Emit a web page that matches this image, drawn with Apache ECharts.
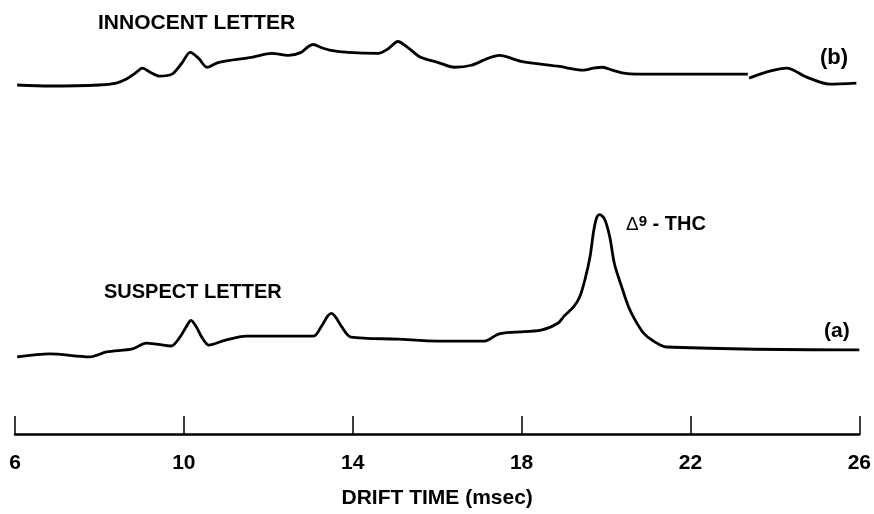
<!DOCTYPE html>
<html>
<head>
<meta charset="utf-8">
<script src="https://cdn.jsdelivr.net/npm/echarts@6/dist/echarts.min.js"></script>
<style>html,body{margin:0;padding:0;background:#fff}#c{width:874px;height:514px}</style>
</head>
<body>
<div id="c"></div>
<script>
// Drift time (msec) and detector signal (arbitrary units)
const tickValues = [6, 10, 14, 18, 22, 26];

// (b) INNOCENT LETTER
const innocentTime = [6.05, 6.82, 8.00, 8.40, 8.64, 8.85, 9.02, 9.20, 9.42, 9.72, 9.95, 10.15, 10.35, 10.55, 10.83, 11.61, 12.08, 12.48, 12.78, 12.95, 13.07, 13.25, 13.49, 13.89, 14.60, 14.85, 15.07, 15.30, 15.61, 16.01, 16.41, 16.81, 17.20, 17.47, 17.99, 18.86, 19.47, 19.70, 19.92, 20.15, 20.42, 20.72, 23.36, null, 23.39, 23.88, 24.28, 24.75, 25.29, 25.93];
const innocentSignal = [353, 352, 353, 355, 359, 365, 370, 366, 362, 364, 375, 386, 380, 371, 376, 381, 385, 383, 386, 392, 394, 391, 388, 386, 385, 390, 397, 391, 381, 376, 371, 373, 380, 383, 377, 372, 368, 370, 371, 368, 365, 364, 364, null, 360, 367, 370, 361, 354, 355];

// (a) SUSPECT LETTER
const suspectTime = [6.05, 6.82, 7.77, 8.17, 8.78, 9.11, 9.35, 9.70, 9.89, 10.05, 10.17, 10.30, 10.41, 10.59, 10.99, 11.47, 12.17, 13.07, 13.26, 13.40, 13.49, 13.60, 13.73, 13.96, 15.07, 16.01, 17.12, 17.45, 17.83, 18.46, 18.86, 19.00, 19.24, 19.38, 19.50, 19.62, 19.71, 19.78, 19.85, 19.97, 20.09, 20.20, 20.37, 20.53, 20.68, 20.89, 21.12, 21.43, 26.00];
const suspectSignal = [78, 81, 78, 83, 86, 92, 91, 89, 97, 108, 115, 108, 99, 90, 95, 99, 99, 99, 109, 119, 122, 118, 109, 98, 96, 94, 94, 101, 103, 105, 112, 119, 129, 139, 156, 179, 206, 219, 222, 217, 199, 172, 149, 129, 116, 102, 94, 88, 85];

function pairs(xs, ys) {
  return xs.map((x, i) => (x === null || ys[i] === null) ? [null, null] : [x, ys[i]]);
}

const chart = echarts.init(document.getElementById('c'));
const font = '"Liberation Sans", Arial, sans-serif';
chart.setOption({
  animation: false,
  backgroundColor: '#fff',
  grid: { left: 15, right: 10, top: 0, bottom: 75 },
  xAxis: {
    type: 'value', min: 6, max: 26,
    name: 'DRIFT TIME (msec)', nameLocation: 'middle', nameGap: 54,
    nameTextStyle: { color: '#000', fontFamily: font, fontWeight: 'bold', fontSize: 21 },
    axisLine: { show: true, onZero: false, lineStyle: { color: '#000', width: 2.5 } },
    axisTick: { show: true, inside: true, length: 18, customValues: tickValues, lineStyle: { color: '#000', width: 1.5 } },
    axisLabel: { customValues: tickValues, color: '#000', fontFamily: font, fontWeight: 'bold', fontSize: 21, margin: 19 },
    splitLine: { show: false }
  },
  yAxis: { type: 'value', min: 0, max: 439, show: false },
  graphic: [
    { type: 'text', left: 98, top: 13, style: { text: 'INNOCENT LETTER', fontFamily: font, fontWeight: 'bold', fontSize: 21, fill: '#000' } },
    { type: 'text', left: 104, top: 282, style: { text: 'SUSPECT LETTER', fontFamily: font, fontWeight: 'bold', fontSize: 20, fill: '#000' } },
    { type: 'text', left: 820, top: 47, style: { text: '(b)', fontFamily: font, fontWeight: 'bold', fontSize: 22, fill: '#000' } },
    { type: 'text', left: 824, top: 321, style: { text: '(a)', fontFamily: font, fontWeight: 'bold', fontSize: 21, fill: '#000' } },
    { type: 'text', left: 626, top: 214, style: {
        text: '{d|Δ}{s|9}{t| - THC}', fontFamily: font, fill: '#000',
        rich: {
          d: { fontFamily: font, fontSize: 19, verticalAlign: 'bottom', fill: '#000' },
          s: { fontFamily: font, fontSize: 15, fontWeight: 'bold', verticalAlign: 'top', fill: '#000' },
          t: { fontFamily: font, fontSize: 20, fontWeight: 'bold', verticalAlign: 'bottom', fill: '#000' }
        } } }
  ],
  series: [
    { name: 'Innocent letter (b)', type: 'line', data: pairs(innocentTime, innocentSignal), smooth: 0.3, showSymbol: false, connectNulls: false, lineStyle: { color: '#000', width: 2.8 } },
    { name: 'Suspect letter (a)', type: 'line', data: pairs(suspectTime, suspectSignal), smooth: 0.3, showSymbol: false, lineStyle: { color: '#000', width: 2.8 } }
  ]
});
</script>
</body>
</html>
